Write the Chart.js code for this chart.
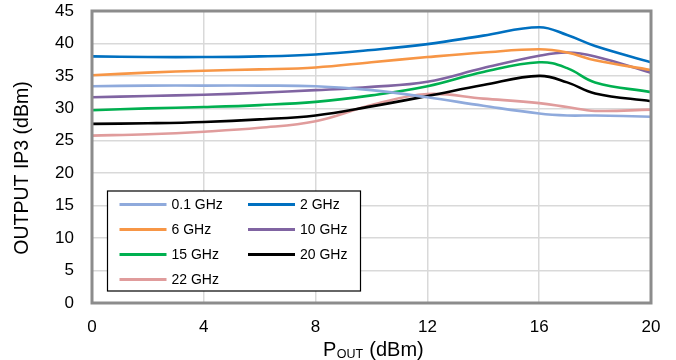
<!DOCTYPE html>
<html>
<head>
<meta charset="utf-8">
<script src="https://cdn.jsdelivr.net/npm/chart.js@4"></script>
<style>
  html, body { margin: 0; padding: 0; background: #ffffff; }
  #wrap { width: 676px; height: 360px; position: relative; }
</style>
</head>
<body>
<div id="wrap"><canvas id="c" width="676" height="360"></canvas></div>
<script>
// ---- data ----
const poutValues = [0, 2, 4, 6, 8, 10, 12, 14, 16, 17, 18, 20];
const seriesLabels = ["0.1 GHz", "2 GHz", "6 GHz", "10 GHz", "15 GHz", "20 GHz", "22 GHz"];
const ip3_0p1GHz = [33.4, 33.5, 33.5, 33.5, 33.4, 32.8, 31.7, 30.4, 29.2, 28.9, 28.9, 28.7];
const ip3_2GHz   = [38.0, 37.9, 37.9, 38.0, 38.3, 39.0, 39.9, 41.2, 42.5, 41.3, 39.6, 37.1];
const ip3_6GHz   = [35.1, 35.5, 35.8, 36.0, 36.3, 37.1, 37.9, 38.6, 39.1, 38.6, 37.4, 35.9];
const ip3_10GHz  = [31.7, 31.9, 32.1, 32.4, 32.8, 33.3, 34.1, 36.2, 38.1, 38.6, 38.0, 35.5];
const ip3_15GHz  = [29.7, 30.0, 30.2, 30.5, 31.0, 32.0, 33.4, 35.6, 37.1, 36.2, 34.0, 32.5];
const ip3_20GHz  = [27.6, 27.7, 27.9, 28.3, 28.9, 30.3, 31.9, 33.6, 35.0, 34.0, 32.3, 31.1];
const ip3_22GHz  = [25.8, 26.0, 26.4, 27.0, 28.0, 30.5, 32.2, 31.5, 30.8, 30.2, 29.6, 29.8];
const xTickValues = [0, 4, 8, 12, 16, 20];
const yTickValues = [0, 5, 10, 15, 20, 25, 30, 35, 40, 45];
const yTitle = "OUTPUT IP3 (dBm)";
const xTitleMain = "P";
const xTitleSub = "OUT";
const xTitleRest = " (dBm)";

// ---- styles ----
const seriesColors = ["#8FAADC", "#0070C0", "#F79646", "#8064A2", "#00B050", "#000000", "#E09C9C"];
const FONT = "'Liberation Sans', Arial, Helvetica, sans-serif";

const allSeries = [ip3_0p1GHz, ip3_2GHz, ip3_6GHz, ip3_10GHz, ip3_15GHz, ip3_20GHz, ip3_22GHz];
const datasets = allSeries.map((vals, i) => ({
  label: seriesLabels[i],
  data: poutValues.map((x, j) => ({ x: x, y: vals[j] })),
  borderColor: seriesColors[i],
  backgroundColor: seriesColors[i],
  borderWidth: 2.6,
  pointRadius: 0,
  tension: 0.4,
  fill: false
}));

const framePlugin = {
  id: 'frameAndText',
  afterDatasetsDraw(chart) {
    const { ctx, chartArea: a } = chart;
    ctx.save();
    ctx.strokeStyle = '#8C8C8C';
    ctx.lineWidth = 3;
    ctx.strokeRect(a.left, a.top, a.right - a.left, a.bottom - a.top);
    ctx.restore();
  },
  afterDraw(chart) {
    const { ctx, chartArea: a } = chart;
    ctx.save();
    // legend box
    const lx = a.left + 15.5, ly = a.top + 180, lw = 253, lh = 100;
    ctx.fillStyle = '#ffffff';
    ctx.fillRect(lx, ly, lw, lh);
    ctx.strokeStyle = '#000000';
    ctx.lineWidth = 1.2;
    ctx.strokeRect(lx, ly, lw, lh);
    ctx.font = '14px ' + FONT;
    ctx.textBaseline = 'middle';
    ctx.textAlign = 'left';
    chart.data.datasets.forEach((ds, i) => {
      const col = i % 2, row = Math.floor(i / 2);
      const x0 = lx + 12 + col * 128.5;
      const y0 = ly + 13.5 + row * 25;
      ctx.strokeStyle = ds.borderColor;
      ctx.lineWidth = 3;
      ctx.beginPath();
      ctx.moveTo(x0, y0);
      ctx.lineTo(x0 + 47, y0);
      ctx.stroke();
      ctx.fillStyle = '#000000';
      ctx.fillText(ds.label, x0 + 52, y0 + 0.5);
    });
    // y title
    ctx.save();
    ctx.translate(23, 168);
    ctx.rotate(-Math.PI / 2);
    ctx.font = '19.5px ' + FONT;
    ctx.textAlign = 'center';
    ctx.textBaseline = 'middle';
    ctx.fillStyle = '#000000';
    ctx.fillText(yTitle, 0, 0);
    ctx.restore();
    // x title with subscript
    ctx.fillStyle = '#000000';
    ctx.textBaseline = 'alphabetic';
    ctx.textAlign = 'left';
    let x = 323, base = 356;
    ctx.font = '20px ' + FONT;
    ctx.fillText(xTitleMain, x, base);
    x += ctx.measureText(xTitleMain).width + 0.5;
    ctx.font = '12.5px ' + FONT;
    ctx.fillText(xTitleSub, x, base + 2);
    x += ctx.measureText(xTitleSub).width + 0.5;
    ctx.font = '20px ' + FONT;
    ctx.fillText(xTitleRest, x, base);
    ctx.restore();
  }
};

new Chart(document.getElementById('c'), {
  type: 'line',
  data: { datasets: datasets },
  options: {
    responsive: false,
    devicePixelRatio: 1,
    animation: false,
    layout: { padding: { left: 0, right: 25, top: 11, bottom: 0 } },
    plugins: { legend: { display: false }, tooltip: { enabled: false } },
    scales: {
      x: {
        type: 'linear',
        min: 0, max: 20,
        afterBuildTicks(scale) { scale.ticks = xTickValues.map(v => ({ value: v })); },
        afterFit(scale) { scale.height = 57; scale.paddingLeft = 0; scale.paddingRight = 0; },
        ticks: { font: { family: FONT, size: 17 }, color: '#000000', padding: 14, maxRotation: 0 },
        grid: { color: '#D9D9D9', lineWidth: 1.5, drawTicks: false },
        border: { display: false }
      },
      y: {
        type: 'linear',
        min: 0, max: 45,
        afterBuildTicks(scale) { scale.ticks = yTickValues.map(v => ({ value: v })); },
        afterFit(scale) { scale.width = 92; scale.paddingTop = 0; scale.paddingBottom = 0; },
        ticks: { font: { family: FONT, size: 17 }, color: '#000000', padding: 18 },
        grid: { color: '#D9D9D9', lineWidth: 1.5, drawTicks: false },
        border: { display: false }
      }
    }
  },
  plugins: [framePlugin]
});
</script>
</body>
</html>
